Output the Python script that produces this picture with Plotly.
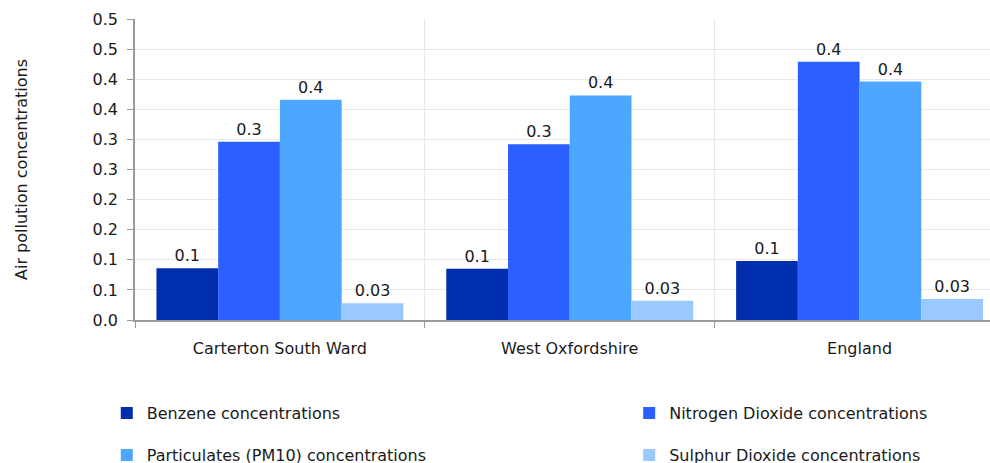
import plotly.graph_objects as go

AREAS = ["Carterton South Ward", "West Oxfordshire", "England"]

BENZENE = [0.086, 0.085, 0.098]
NITROGEN_DIOXIDE = [0.296, 0.292, 0.429]
PM10 = [0.366, 0.373, 0.396]
SULPHUR_DIOXIDE = [0.028, 0.032, 0.035]

BENZENE_LABELS = ["0.1", "0.1", "0.1"]
NITROGEN_DIOXIDE_LABELS = ["0.3", "0.3", "0.4"]
PM10_LABELS = ["0.4", "0.4", "0.4"]
SULPHUR_DIOXIDE_LABELS = ["0.03", "0.03", "0.03"]

Y_TICKS = [0, 0.05, 0.1, 0.15, 0.2, 0.25, 0.3, 0.35, 0.4, 0.45, 0.5]
Y_TICK_TEXT = ["0.0", "0.1", "0.1", "0.2", "0.2", "0.3", "0.3", "0.4", "0.4", "0.5", "0.5"]

FONT = "DejaVu Sans, Arial, sans-serif"
TEXT = "#1a1a1a"
AXIS = "#9a9a9a"
GRID = "#e8e8e8"

# name, values, labels, colour, legend id, legend x, legend y
series = [
    ("Benzene concentrations", BENZENE, BENZENE_LABELS, "#002EAD", "legend", -0.033, -0.309),
    ("Nitrogen Dioxide concentrations", NITROGEN_DIOXIDE, NITROGEN_DIOXIDE_LABELS, "#2B5FFF", "legend2", 0.578, -0.309),
    ("Particulates (PM10) concentrations", PM10, PM10_LABELS, "#4DA6FF", "legend3", -0.033, -0.449),
    ("Sulphur Dioxide concentrations", SULPHUR_DIOXIDE, SULPHUR_DIOXIDE_LABELS, "#99C9FF", "legend4", 0.578, -0.449),
]

fig = go.Figure()
legends = {}
for name, vals, labels, color, leg, lx, ly in series:
    fig.add_trace(go.Bar(
        x=AREAS,
        y=vals,
        name=name,
        marker_color=color,
        marker_line_width=0,
        text=labels,
        textposition="outside",
        textfont=dict(size=16, color=TEXT, family=FONT),
        cliponaxis=False,
        showlegend=True,
        legend=leg,
    ))
    legends[leg] = dict(
        orientation="h",
        xanchor="left",
        x=lx,
        yanchor="middle",
        y=ly,
        font=dict(size=16, color=TEXT, family=FONT),
        bgcolor="rgba(0,0,0,0)",
    )

fig.update_layout(
    width=990,
    height=463,
    showlegend=True,
    barmode="group",
    bargap=0.148,
    bargroupgap=0,
    plot_bgcolor="white",
    paper_bgcolor="white",
    font=dict(family=FONT, size=16, color=TEXT),
    margin=dict(l=135, r=0, t=19, b=143, autoexpand=False),
    xaxis=dict(
        type="category",
        range=[-0.5, 2.45],
        tickson="boundaries",
        ticks="outside",
        ticklen=6,
        tickcolor=AXIS,
        showgrid=True,
        gridcolor=GRID,
        showline=True,
        linecolor=AXIS,
        linewidth=1.5,
        ticklabelstandoff=13,
        tickfont=dict(size=16, color=TEXT),
    ),
    yaxis=dict(
        range=[0, 0.5],
        tickvals=Y_TICKS,
        ticktext=Y_TICK_TEXT,
        ticks="outside",
        ticklen=6,
        tickcolor=AXIS,
        showgrid=True,
        gridcolor=GRID,
        showline=True,
        linecolor=AXIS,
        linewidth=1.5,
        zeroline=False,
        ticklabelstandoff=6,
        tickfont=dict(size=16, color=TEXT),
        title=dict(text="Air pollution concentrations", standoff=61,
                   font=dict(size=16, color=TEXT)),
    ),
    **legends,
)

fig.write_html(
    "out.html",
    config={"displayModeBar": False},
    post_script="document.body.style.margin='0';",
)
